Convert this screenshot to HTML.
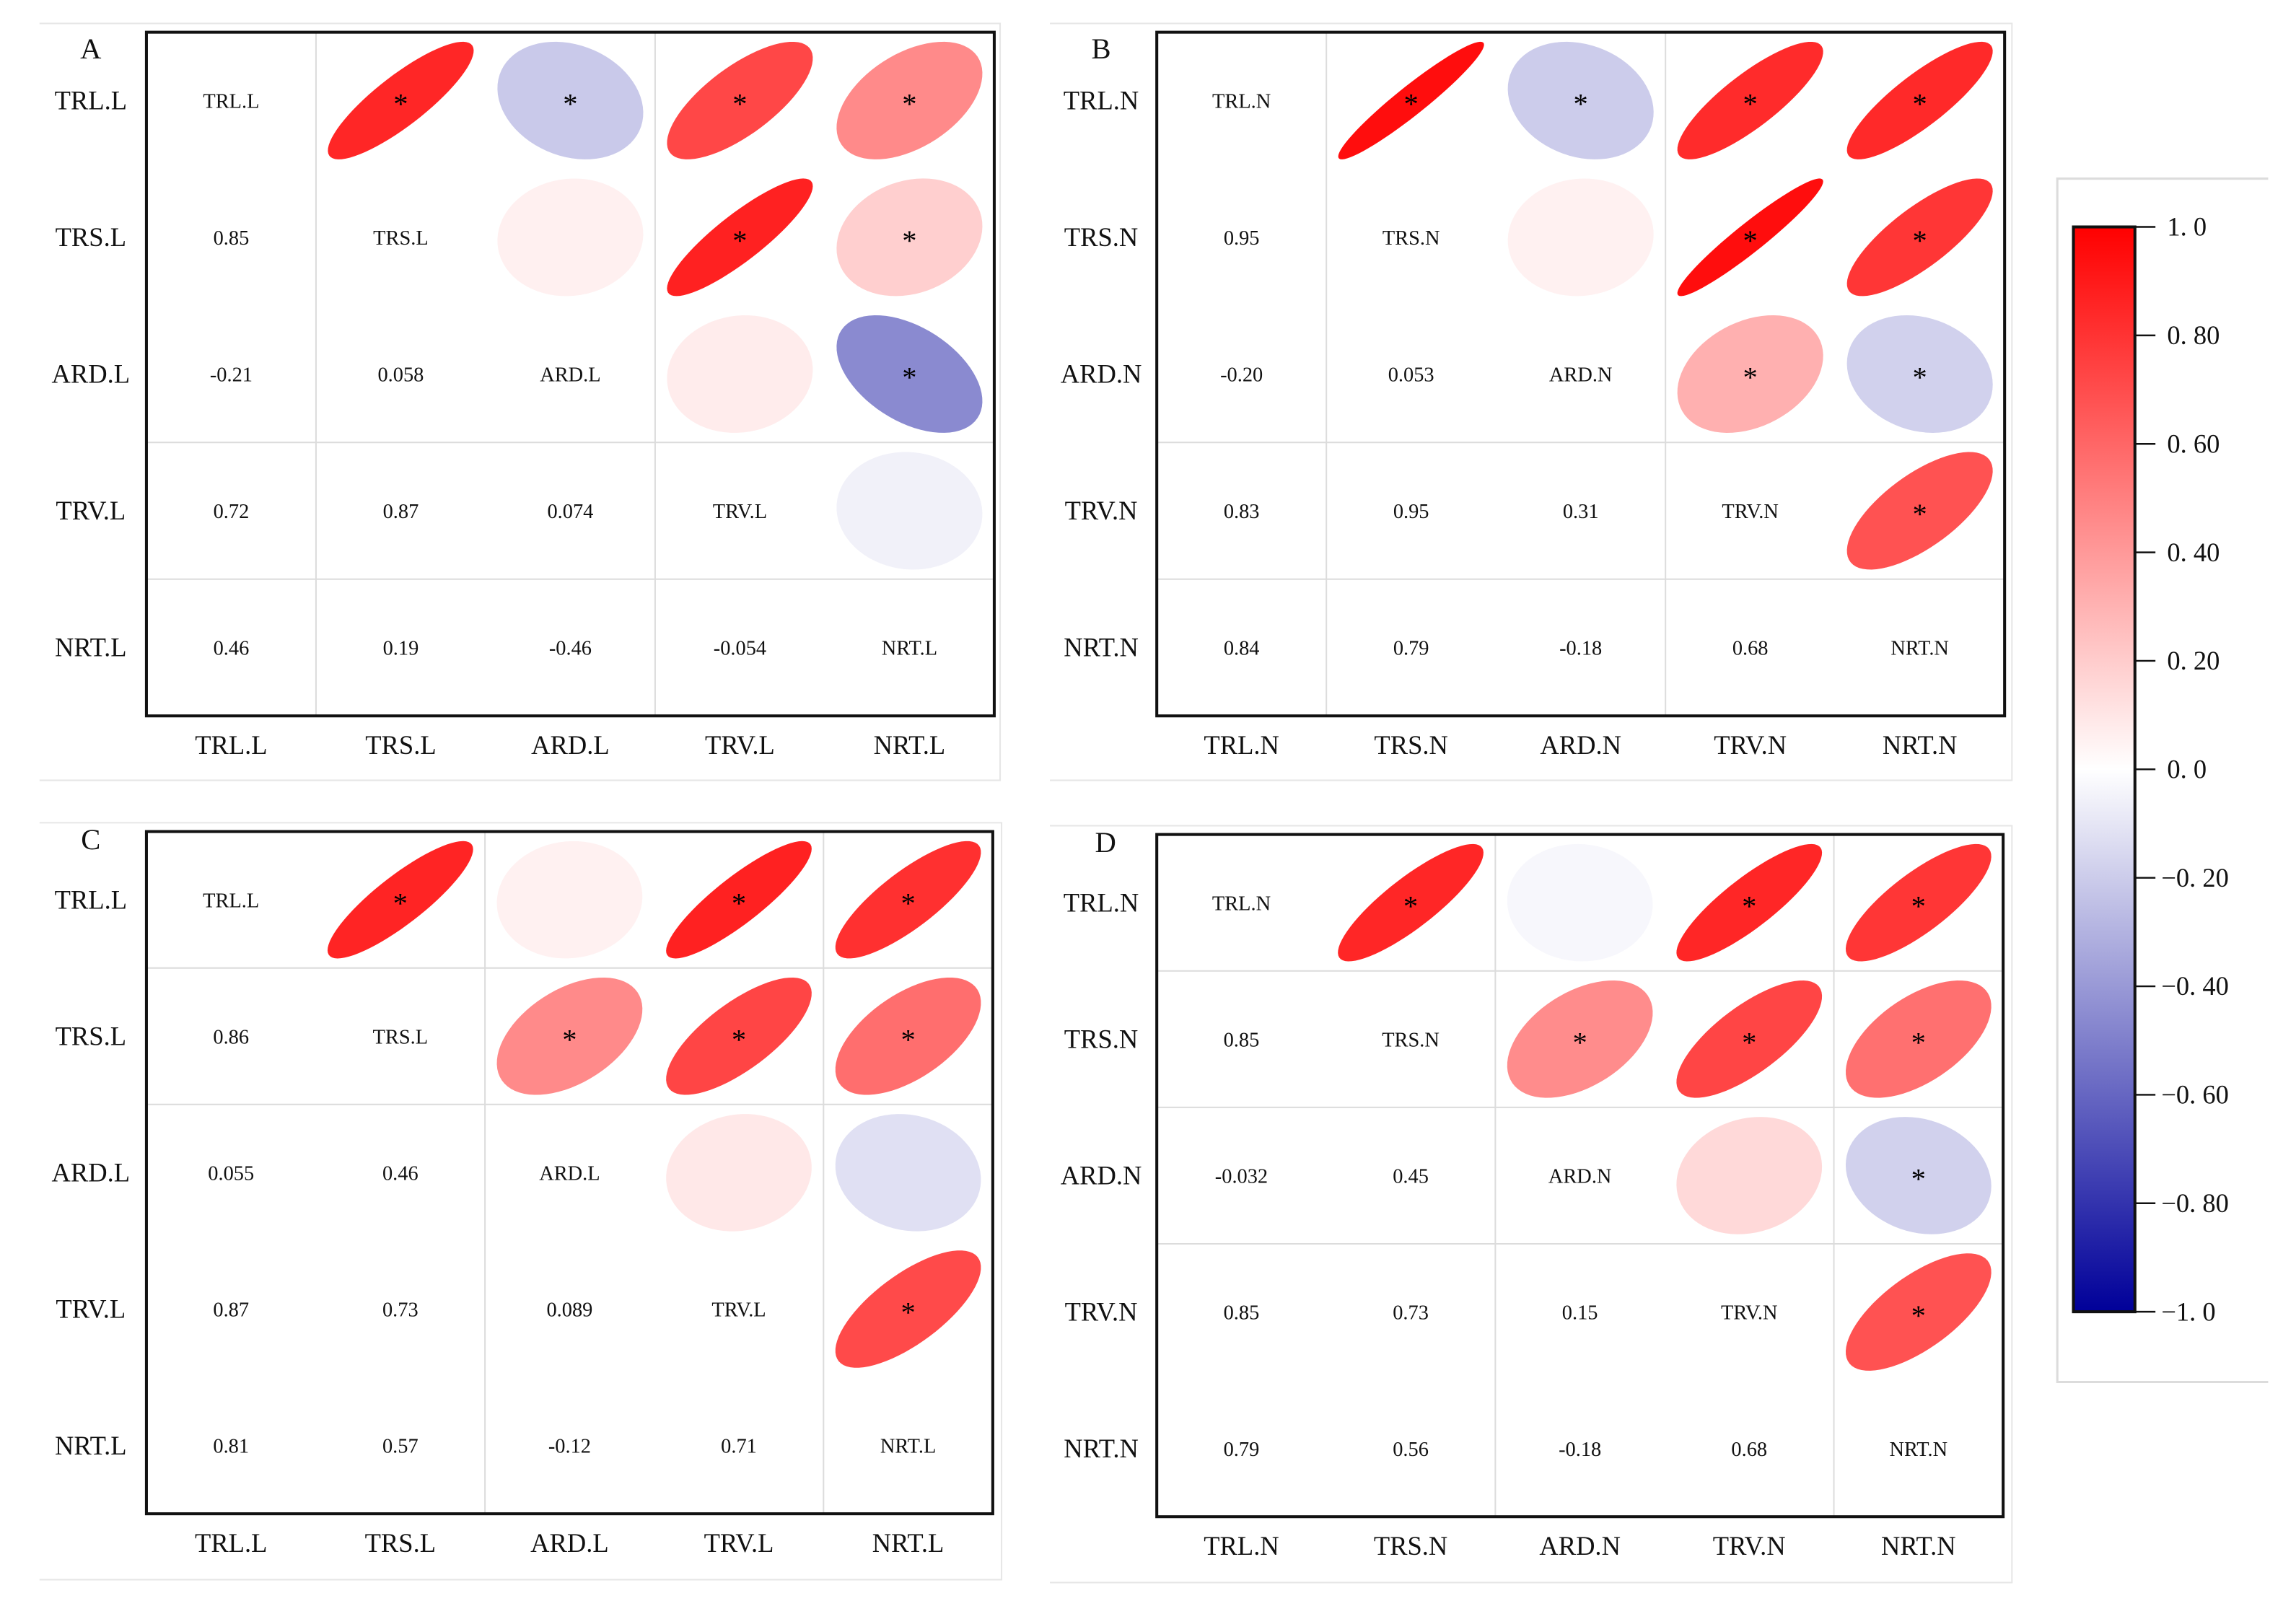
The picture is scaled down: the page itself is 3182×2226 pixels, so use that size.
<!DOCTYPE html>
<html><head><meta charset="utf-8"><style>
html,body{margin:0;padding:0;background:#fff;}
svg{display:block;font-family:"Liberation Serif",serif;}
</style></head><body>
<svg id="chart" width="3182" height="2226" viewBox="0 0 1568 1097" preserveAspectRatio="none" xmlns="http://www.w3.org/2000/svg"></svg>
<script>
const labelsL = ["TRL.L","TRS.L","ARD.L","TRV.L","NRT.L"];
const labelsN = ["TRL.N","TRS.N","ARD.N","TRV.N","NRT.N"];
// lower-triangle values [row][col], row>col
const valsA = [[],[0.85],[-0.21,0.058],[0.72,0.87,0.074],[0.46,0.19,-0.46,-0.054]];
const textA = [[],["0.85"],["-0.21","0.058"],["0.72","0.87","0.074"],["0.46","0.19","-0.46","-0.054"]];
const valsB = [[],[0.95],[-0.20,0.053],[0.83,0.95,0.31],[0.84,0.79,-0.18,0.68]];
const textB = [[],["0.95"],["-0.20","0.053"],["0.83","0.95","0.31"],["0.84","0.79","-0.18","0.68"]];
const valsC = [[],[0.86],[0.055,0.46],[0.87,0.73,0.089],[0.81,0.57,-0.12,0.71]];
const textC = [[],["0.86"],["0.055","0.46"],["0.87","0.73","0.089"],["0.81","0.57","-0.12","0.71"]];
const valsD = [[],[0.85],[-0.032,0.45],[0.85,0.73,0.15],[0.79,0.56,-0.18,0.68]];
const textD = [[],["0.85"],["-0.032","0.45"],["0.85","0.73","0.15"],["0.79","0.56","-0.18","0.68"]];
// significant cells (upper triangle "row-col")
const sigA = ["0-1","0-2","0-3","0-4","1-3","1-4","2-4"];
const sigB = ["0-1","0-2","0-3","0-4","1-3","1-4","2-3","2-4","3-4"];
const sigC = ["0-1","0-3","0-4","1-2","1-3","1-4","3-4"];
const sigD = ["0-1","0-3","0-4","1-2","1-3","1-4","2-4","3-4"];
const colorTicks = [1.0,0.8,0.6,0.4,0.2,0.0,-0.2,-0.4,-0.6,-0.8,-1.0];
const colorTickLabels = ["1. 0","0. 80","0. 60","0. 40","0. 20","0. 0","\u22120. 20","\u22120. 40","\u22120. 60","\u22120. 80","\u22121. 0"];

const NS="http://www.w3.org/2000/svg";
const svg=document.getElementById('chart');
function mk(tag,attrs,parent){const e=document.createElementNS(NS,tag);for(const k in attrs)e.setAttribute(k,attrs[k]);(parent||svg).appendChild(e);return e;}
function color(r){
  if(r>=0){const t=1-r;const g=Math.round(255*t);return `rgb(255,${g},${g})`;}
  const t=1+r;const c=Math.round(255*t);const b=Math.round(153+102*t);return `rgb(${c},${c},${b})`;
}
const panels=[
 {id:"a",letter:"A",lx:62,ly:40,frame:[27,16,683,533],box:[100,22,679,489],labels:labelsL,vals:valsA,text:textA,sig:sigA,vl:[1,3],hl:[3,4]},
 {id:"b",letter:"B",lx:752,ly:40,frame:[717,16,1374,533],box:[790,22,1369,489],labels:labelsN,vals:valsB,text:textB,sig:sigB,vl:[1,3],hl:[3,4]},
 {id:"c",letter:"C",lx:62,ly:580,frame:[27,562,684,1079],box:[100,568,678,1034],labels:labelsL,vals:valsC,text:textC,sig:sigC,vl:[2,4],hl:[1,2]},
 {id:"d",letter:"D",lx:755,ly:582,frame:[717,564,1374,1081],box:[790,570,1368,1036],labels:labelsN,vals:valsD,text:textD,sig:sigD,vl:[2,4],hl:[1,2,3]}
];
function getR(p,i,j){return i>j?p.vals[i][j]:p.vals[j][i];}
panels.forEach(p=>{
  const g=mk('g',{});
  
  
  const [fx0,fy0,fx1,fy1]=p.frame;
  const fr=mk('path',{d:`M${fx0},${fy0}H${fx1}V${fy1}H${fx0}`,fill:'none',stroke:'#e6e6e6','stroke-width':1},g);
  
  
  const [x0,y0,x1,y1]=p.box;const cw=(x1-x0)/5,ch=(y1-y0)/5;
  const xs=j=>x0+cw*(j+0.5), ys=i=>y0+ch*(i+0.5);
  p.vl.forEach(k=>{const l=mk('line',{x1:x0+cw*k,x2:x0+cw*k,y1:y0,y2:y1,stroke:'#dcdcdc','stroke-width':1},g);
    
    });
  p.hl.forEach(k=>{const l=mk('line',{x1:x0,x2:x1,y1:y0+ch*k,y2:y0+ch*k,stroke:'#dcdcdc','stroke-width':1},g);
    
    });
  for(let i=0;i<5;i++)for(let j=0;j<5;j++){
    if(j>i){
      const r=getR(p,i,j);const d=Math.acos(Math.max(-1,Math.min(1,r)));
      const rx=cw*0.43,ry=ch*0.43;let pts=[];
      for(let k=0;k<72;k++){const t=k/72*2*Math.PI;const u=Math.cos(t+d/2),v=Math.cos(t-d/2);
        pts.push((xs(j)+u*rx).toFixed(2)+','+(ys(i)-v*ry).toFixed(2));}
      const e=mk('polygon',{points:pts.join(' '),fill:color(r)},g);
      
      
      if(p.sig.includes(i+'-'+j)){
        const s=mk('text',{x:xs(j),y:ys(i)+9,'text-anchor':'middle','font-size':20,fill:'#000'},g);
        s.textContent='*';
        
        
      }
    } else {
      const t=mk('text',{x:xs(j),y:ys(i)+5,'text-anchor':'middle','font-size':14,fill:'#111'},g);
      t.textContent= i===j?p.labels[i]:p.text[i][j];
      
      
    }
    if(j===0){const t=mk('text',{x:x0-38,y:ys(i)+6,'text-anchor':'middle','font-size':18,fill:'#111'},g);
      t.textContent=p.labels[i];
      
      }
  }
  for(let j=0;j<5;j++){const t=mk('text',{x:xs(j),y:y1+26,'text-anchor':'middle','font-size':18,fill:'#111'},g);
    t.textContent=p.labels[j];
    
    }
  const b=mk('rect',{x:x0,y:y0,width:x1-x0,height:y1-y0,fill:'none',stroke:'#111','stroke-width':2},g);
  
  
  const L=mk('text',{x:p.lx,y:p.ly,'text-anchor':'middle','font-size':20,fill:'#111'},g);
  L.textContent=p.letter;
  
  
});
// colorbar
const cg=mk('g',{});


const defs=mk('defs',{},cg);
const lg=mk('linearGradient',{id:'cbg',x1:0,y1:0,x2:0,y2:1},defs);
[[0,'#ff0000'],[0.5,'#ffffff'],[1,'#000099']].forEach(([o,c])=>mk('stop',{offset:o,'stop-color':c},lg));
const cf=mk('path',{d:'M1549,122H1405V944H1549',fill:'none',stroke:'#dcdcdc','stroke-width':1.5},cg);


const cbTop=155,cbBot=896;
const cy=v=>cbTop+(1-v)/2*(cbBot-cbTop);
const cr=mk('rect',{x:1416,y:cbTop,width:42,height:cbBot-cbTop,fill:'url(#cbg)',stroke:'#111','stroke-width':2},cg);


colorTicks.forEach((v,k)=>{
  const l=mk('line',{x1:1458,x2:1472,y1:cy(v),y2:cy(v),stroke:'#111','stroke-width':1.2},cg);
  
  
  const t=mk('text',{x: v<0?1476:1480,y:cy(v)+6,'font-size':18,fill:'#111'},cg);
  t.textContent=colorTickLabels[k];
  
  
});
</script>
</body></html>
